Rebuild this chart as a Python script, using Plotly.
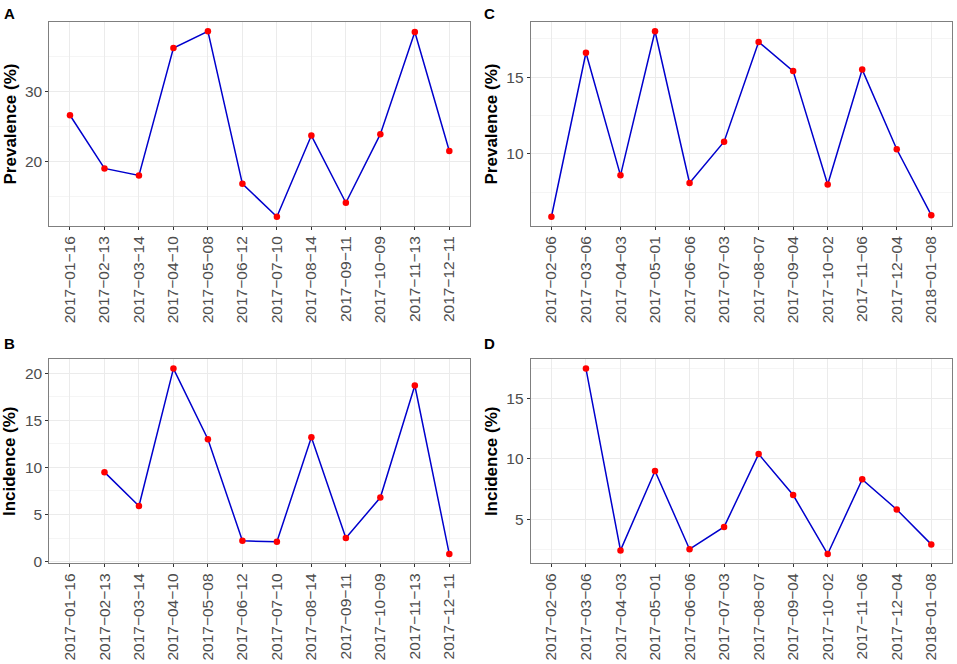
import plotly.graph_objects as go

# survey dates (Site 1 and Site 2)
dates_ac = ["2017-01-16", "2017-02-13", "2017-03-14", "2017-04-10", "2017-05-08", "2017-06-12",
            "2017-07-10", "2017-08-14", "2017-09-11", "2017-10-09", "2017-11-13", "2017-12-11"]
dates_cd = ["2017-02-06", "2017-03-06", "2017-04-03", "2017-05-01", "2017-06-06", "2017-07-03",
            "2017-08-07", "2017-09-04", "2017-10-02", "2017-11-06", "2017-12-04", "2018-01-08"]

# values
prev_a = [26.6, 19.0, 18.0, 36.2, 38.6, 16.8, 12.1, 23.7, 14.1, 23.9, 38.5, 21.5]
inc_b = [None, 9.5, 5.9, 20.5, 13.0, 2.2, 2.1, 13.2, 2.5, 6.8, 18.7, 0.8]
prev_c = [5.9, 16.6, 8.6, 18.0, 8.1, 10.8, 17.3, 15.4, 8.0, 15.5, 10.3, 6.0]
inc_d = [None, 17.5, 2.4, 9.0, 2.5, 4.35, 10.4, 7.0, 2.1, 8.3, 5.8, 2.9]

W, H = 957, 664
FONT = "Liberation Sans, Arial, sans-serif"


def lab(d):
    # ggplot draws the dashes as minus signs
    return d.replace("-", "\u2212")


panels = [
    # name, dates, values, y title, x px range, y px range (top, bottom), major, minor, label pos
    ("A", dates_ac, prev_a, "Prevalence (%)", (49.3, 470), (22, 226), 10, 5, (3, 13)),
    ("C", dates_cd, prev_c, "Prevalence (%)", (530.7, 952), (22, 226), 5, 2.5, (483, 13)),
    ("B", dates_ac, inc_b, "Incidence (%)", (49.3, 470), (359.3, 563.3), 5, 2.5, (3, 343)),
    ("D", dates_cd, inc_d, "Incidence (%)", (530.7, 952), (359.3, 563.3), 5, 2.5, (483, 343)),
]

fig = go.Figure()
annotations = []

for i, (name, dates, vals, ytitle, xpx, ypx, major, minor, lpos) in enumerate(panels, start=1):
    sfx = "" if i == 1 else str(i)
    labels = [lab(d) for d in dates]
    fig.add_trace(go.Scatter(
        x=labels, y=vals, mode="lines+markers",
        line=dict(color="#0000CD", width=1.5),
        marker=dict(color="#FF0000", size=6.5),
        xaxis="x" + sfx, yaxis="y" + sfx, showlegend=False,
    ))
    good = [v for v in vals if v is not None]
    lo, hi = min(good), max(good)
    pad = (hi - lo) * 0.05
    axis_common = dict(
        showline=True, linecolor="#7F7F7F", linewidth=1, mirror=True,
        ticks="outside", ticklen=3, tickcolor="#333333", automargin=False,
        gridcolor="#EBEBEB", gridwidth=1, zeroline=False,
        tickfont=dict(family=FONT, size=15.5, color="#4D4D4D"),
    )
    fig.update_layout(**{
        "xaxis" + sfx: dict(
            axis_common, type="category", anchor="y" + sfx,
            domain=[xpx[0] / W, xpx[1] / W], range=[-0.6, len(dates) - 0.4],
            tickangle=-90,
        ),
        "yaxis" + sfx: dict(
            axis_common, anchor="x" + sfx,
            domain=[1 - ypx[1] / H, 1 - ypx[0] / H], range=[lo - pad, hi + pad],
            dtick=major, tick0=0,
            minor=dict(dtick=minor, tick0=0, showgrid=True, gridcolor="#F5F5F5", ticks=""),
            title=dict(text="<b>" + ytitle + "</b>", standoff=4,
                       font=dict(family=FONT, size=17, color="black")),
        ),
    })
    annotations.append(dict(
        text="<b>" + name + "</b>", xref="paper", yref="paper",
        x=lpos[0] / W, y=1 - lpos[1] / H,
        xanchor="left", yanchor="middle", showarrow=False, borderpad=0,
        font=dict(family=FONT, size=15, color="black"),
    ))

fig.update_layout(
    width=W, height=H, margin=dict(l=0, r=0, t=0, b=0),
    paper_bgcolor="white", plot_bgcolor="white",
    annotations=annotations,
)

# drop the browser's default body margin so the figure fills the window
fig.write_html("out.html", config={"displayModeBar": False},
               post_script="document.body.style.margin='0';")
